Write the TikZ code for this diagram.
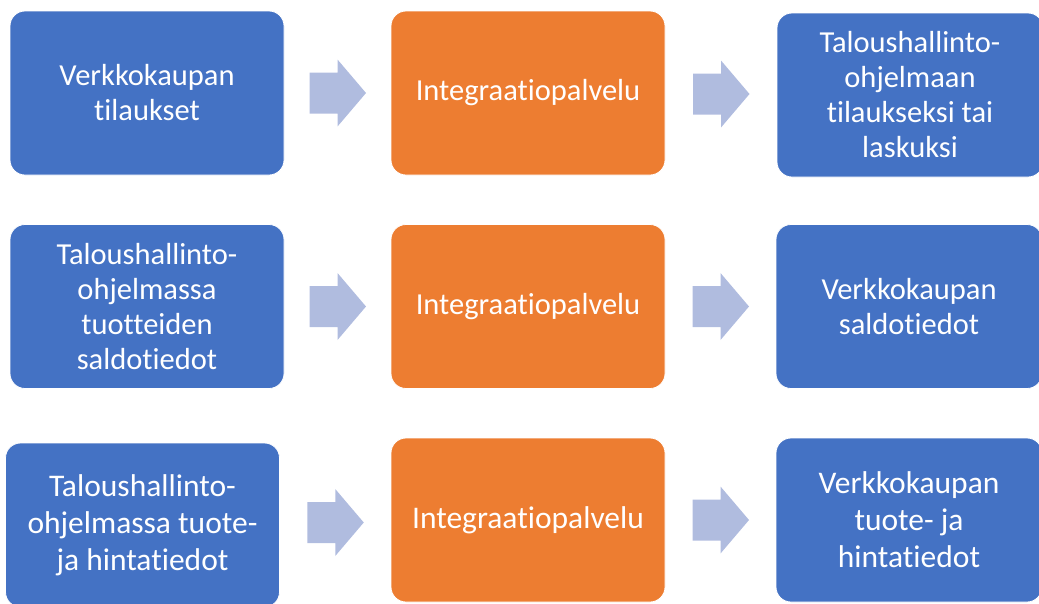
\documentclass[tikz,border=0pt]{standalone}
\usepackage{fontspec}
\setmainfont{Carlito}[Ligatures={NoCommon,NoRequired,NoContextual}]
\usetikzlibrary{calc}
\definecolor{boxblue}{HTML}{4472C4}
\definecolor{boxorange}{HTML}{ED7D31}
\definecolor{flowarrow}{HTML}{B0BCDF}
\tikzset{
  card/.style={rounded corners=15pt, minimum width=274pt, minimum height=164pt,
    inner sep=0pt, align=center, text=white, draw=white, line width=0.8pt},
  source/.style={card, fill=boxblue},
  service/.style={card, fill=boxorange},
  target/.style={card, fill=boxblue, minimum width=266pt},
  rowtext/.style={font=\fontsize{30.5}{35}\selectfont},
  lasttext/.style={font=\fontsize{31.5}{37}\selectfont},
  pics/flowstep/.style={code={
    \fill[flowarrow] (-28,-20.5) -- (0,-20.5) -- (0,-33.5) -- (28.5,0)
      -- (0,33.5) -- (0,20.5) -- (-28,20.5) -- cycle;}}
}
\begin{document}
\begin{tikzpicture}[x=1pt,y=-1pt]
  \useasboundingbox (0,0) rectangle (1039,603);
  \clip (0,0) rectangle (1039,603);

  % first row: web shop orders
  \node[source, rowtext]  (s1) at (147,93)   {Verkkokaupan\\tilaukset};
  \node[service, rowtext] (i1) at (528,93)   {Integraatiopalvelu};
  \node[target, rowtext]  (t1) at (910,95)   {Taloushallinto-\\ohjelmaan\\tilaukseksi tai\\laskuksi};

  % second row: stock levels
  \node[source, rowtext]  (s2) at (147,306.5) {Taloushallinto-\\ohjelmassa\\tuotteiden\\saldotiedot};
  \node[service, rowtext] (i2) at (528,306.5) {Integraatiopalvelu};
  \node[target, rowtext]  (t2) at (909,306.5) {Verkkokaupan\\saldotiedot};

  % third row: product and price data
  \node[source, lasttext]  (s3) at (142.5,525) {Taloushallinto-\\ohjelmassa tuote-\\ja hintatiedot};
  \node[service, lasttext] (i3) at (528,520)   {Integraatiopalvelu};
  \node[target, lasttext]  (t3) at (909,520)   {Verkkokaupan\\tuote- ja\\hintatiedot};

  % block arrows between the stages
  \path ($(s1.east)!0.5!(i1.west)$) pic {flowstep};
  \path ($(i1.east)!0.5!(t1.west)$) pic {flowstep};
  \path ($(s2.east)!0.5!(i2.west)$) pic {flowstep};
  \path ($(i2.east)!0.5!(t2.west)$) pic {flowstep};
  \path ($(s3.east)!0.5!(i3.west)$) pic {flowstep};
  \path ($(i3.east)!0.5!(t3.west)$) pic {flowstep};
\end{tikzpicture}
\end{document}
